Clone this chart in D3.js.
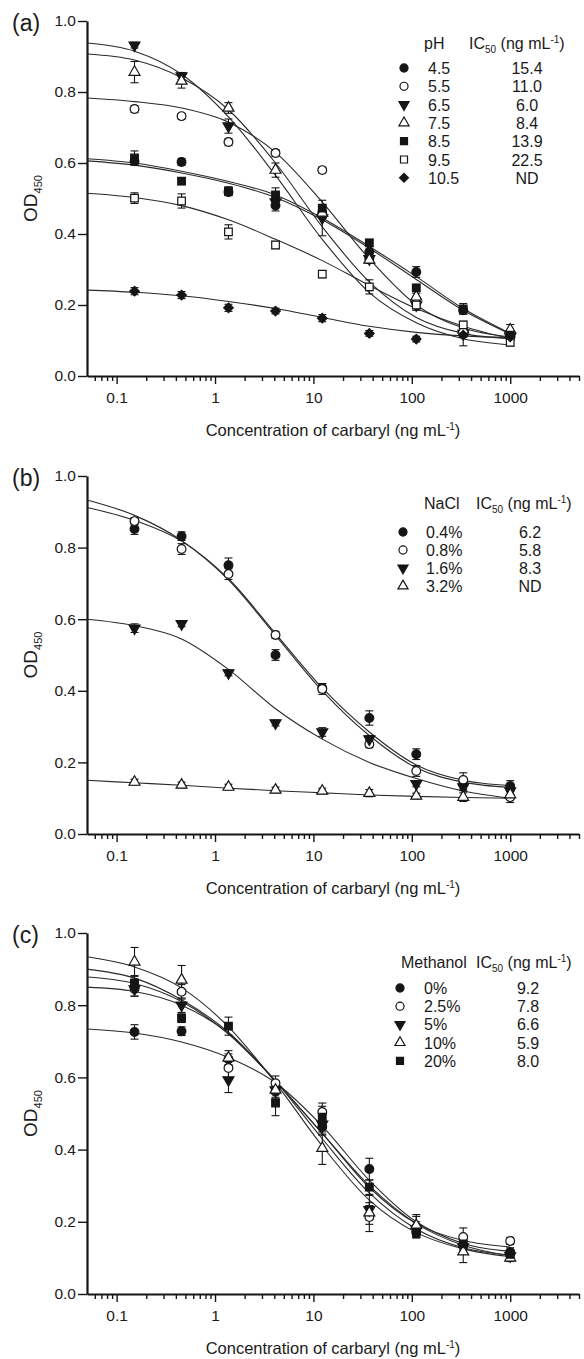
<!DOCTYPE html>
<html>
<head>
<meta charset="utf-8">
<script src="https://d3js.org/d3.v7.min.js"></script>
<style>
  body { margin: 0; background: #fff; }
  text { font-family: "Liberation Sans", Arial, Helvetica, sans-serif; fill: #1a1a1a; }
</style>
</head>
<body>
<svg id="chart" width="584" height="1359"></svg>
<script>
// carbaryl concentrations (ng/mL), 3-fold dilutions
var conc = [0.152, 0.457, 1.37, 4.12, 12.3, 37.0, 111, 333, 1000];
var fitConc = [0.05, 0.152, 0.457, 1.37, 4.12, 12.3, 37.0, 111, 333, 1000];

var majorTicks = [0.1, 1, 10, 100, 1000];
var yTicks = [0, 0.2, 0.4, 0.6, 0.8, 1.0];

// ---- (a) pH ----
var phLevels = ["4.5", "5.5", "6.5", "7.5", "8.5", "9.5", "10.5"];
var phIC50 = ["15.4", "11.0", "6.0", "8.4", "13.9", "22.5", "ND"];
var phOD = [
  [0.605, 0.603, 0.518, 0.48, 0.46, 0.35, 0.293, 0.185, 0.115],
  [0.752, 0.732, 0.659, 0.628, 0.58, 0.33, 0.205, 0.12, 0.11],
  [0.932, 0.845, 0.704, 0.49, 0.445, 0.33, 0.20, 0.12, 0.11],
  [0.856, 0.831, 0.755, 0.58, 0.459, 0.327, 0.223, 0.13, 0.13],
  [0.614, 0.549, 0.521, 0.51, 0.473, 0.375, 0.248, 0.189, 0.115],
  [0.501, 0.493, 0.406, 0.369, 0.287, 0.251, 0.20, 0.144, 0.095],
  [0.239, 0.228, 0.192, 0.183, 0.163, 0.12, 0.104, 0.115, 0.11]
];
var phErr = [
  [0.01, 0.01, 0.01, 0.015, 0.015, 0.015, 0.015, 0.01, 0.01],
  [0.01, 0.008, 0.01, 0.01, 0.008, 0.01, 0.01, 0.01, 0.01],
  [0.008, 0.01, 0.02, 0.01, 0.05, 0.01, 0.01, 0.01, 0.01],
  [0.03, 0.02, 0.015, 0.02, 0.015, 0.01, 0.01, 0.01, 0.015],
  [0.02, 0.01, 0.012, 0.02, 0.01, 0.01, 0.01, 0.015, 0.01],
  [0.015, 0.02, 0.02, 0.01, 0.01, 0.02, 0.015, 0.01, 0.01],
  [0.01, 0.01, 0.01, 0.008, 0.01, 0.008, 0.008, 0.03, 0.01]
];
var phFit = [
  [0.612, 0.600, 0.577, 0.548, 0.510, 0.445, 0.365, 0.28, 0.19, 0.12],
  [0.783, 0.773, 0.755, 0.715, 0.63, 0.49, 0.33, 0.20, 0.135, 0.11],
  [0.938, 0.915, 0.85, 0.73, 0.565, 0.385, 0.235, 0.15, 0.105, 0.088],
  [0.907, 0.89, 0.84, 0.75, 0.60, 0.42, 0.265, 0.165, 0.12, 0.105],
  [0.606, 0.594, 0.572, 0.543, 0.503, 0.44, 0.36, 0.272, 0.185, 0.118],
  [0.515, 0.503, 0.48, 0.44, 0.385, 0.325, 0.255, 0.19, 0.14, 0.105],
  [0.242, 0.236, 0.226, 0.21, 0.19, 0.165, 0.14, 0.123, 0.113, 0.108]
];

// ---- (b) NaCl ----
var naclLevels = ["0.4%", "0.8%", "1.6%", "3.2%"];
var naclIC50 = ["6.2", "5.8", "8.3", "ND"];
var naclOD = [
  [0.852, 0.832, 0.751, 0.50, 0.408, 0.324, 0.223, 0.14, 0.134],
  [0.874, 0.796, 0.726, 0.556, 0.405, 0.251, 0.176, 0.151, 0.103],
  [0.575, 0.587, 0.45, 0.31, 0.285, 0.265, 0.14, 0.131, 0.12],
  [0.145, 0.137, 0.131, 0.123, 0.12, 0.114, 0.106, 0.103, 0.11]
];
var naclErr = [
  [0.015, 0.012, 0.02, 0.015, 0.012, 0.02, 0.015, 0.015, 0.015],
  [0.01, 0.015, 0.015, 0.01, 0.015, 0.01, 0.015, 0.02, 0.015],
  [0.012, 0.008, 0.008, 0.008, 0.012, 0.01, 0.008, 0.01, 0.01],
  [0.008, 0.008, 0.008, 0.008, 0.008, 0.01, 0.008, 0.012, 0.01]
];
var naclFit = [
  [0.912, 0.876, 0.818, 0.713, 0.56, 0.408, 0.285, 0.193, 0.15, 0.135],
  [0.933, 0.89, 0.82, 0.71, 0.555, 0.40, 0.275, 0.185, 0.145, 0.13],
  [0.60, 0.582, 0.545, 0.46, 0.35, 0.265, 0.20, 0.155, 0.12, 0.10],
  [0.15, 0.143, 0.136, 0.128, 0.121, 0.115, 0.109, 0.105, 0.102, 0.10]
];

// ---- (c) methanol ----
var meohLevels = ["0%", "2.5%", "5%", "10%", "20%"];
var meohIC50 = ["9.2", "7.8", "6.6", "5.9", "8.0"];
var meohOD = [
  [0.726, 0.728, 0.65, 0.56, 0.463, 0.346, 0.172, 0.135, 0.116],
  [0.845, 0.837, 0.626, 0.584, 0.504, 0.213, 0.185, 0.158, 0.147],
  [0.845, 0.80, 0.593, 0.565, 0.47, 0.233, 0.18, 0.13, 0.105],
  [0.92, 0.87, 0.654, 0.565, 0.404, 0.225, 0.19, 0.117, 0.10],
  [0.862, 0.764, 0.742, 0.529, 0.49, 0.296, 0.172, 0.139, 0.11]
];
var meohErr = [
  [0.02, 0.012, 0.015, 0.02, 0.02, 0.03, 0.015, 0.015, 0.012],
  [0.02, 0.02, 0.03, 0.02, 0.025, 0.04, 0.03, 0.025, 0.01],
  [0.02, 0.02, 0.035, 0.02, 0.03, 0.04, 0.02, 0.015, 0.01],
  [0.04, 0.04, 0.02, 0.025, 0.045, 0.02, 0.03, 0.03, 0.01],
  [0.02, 0.012, 0.025, 0.035, 0.03, 0.02, 0.015, 0.015, 0.01]
];
var meohFit = [
  [0.734, 0.723, 0.698, 0.655, 0.585, 0.465, 0.315, 0.20, 0.14, 0.118],
  [0.878, 0.86, 0.81, 0.72, 0.59, 0.445, 0.295, 0.195, 0.148, 0.13],
  [0.85, 0.838, 0.80, 0.722, 0.59, 0.43, 0.28, 0.18, 0.128, 0.108],
  [0.934, 0.906, 0.848, 0.74, 0.585, 0.41, 0.26, 0.17, 0.125, 0.103],
  [0.90, 0.875, 0.815, 0.725, 0.59, 0.445, 0.30, 0.195, 0.135, 0.105]
];

// marker styles
var marks7 = ["circleF", "circleO", "triDownF", "triUpO", "squareF", "squareO", "diamondF"];
var ink = "#151515";

var svg = d3.select("#chart");

function markerPath(m, k) {
  if (m.indexOf("circle") == 0) return d3.symbol(d3.symbolCircle, 60 * k)();
  if (m.indexOf("square") == 0) return d3.symbol(d3.symbolSquare, 58 * k)();
  if (m.indexOf("tri") == 0) return d3.symbol(d3.symbolTriangle, 52 * k)();
  return d3.symbol(d3.symbolSquare, 46 * k)();
}
function markerRot(m) {
  if (m == "triDownF") return 180;
  if (m == "diamondF") return 45;
  return 0;
}
function drawMarker(g, m, cx, cy, k) {
  var filled = m.charAt(m.length - 1) == "F";
  g.append("path")
    .attr("d", markerPath(m, k))
    .attr("transform", "translate(" + cx + "," + cy + ") rotate(" + markerRot(m) + ")")
    .attr("fill", filled ? ink : "#fff")
    .attr("stroke", ink)
    .attr("stroke-width", 1.2);
}

var x = d3.scaleLog().domain([0.05, 5000]).range([87, 579]);

function minorTicks() {
  var t = [];
  [0.01, 0.1, 1, 10, 100, 1000].forEach(function(d) {
    for (var k = 2; k <= 9; k++) {
      var v = d * k;
      if (v > 0.055 && v <= 5000) t.push(v);
    }
  });
  return t;
}

function drawPanel(cfg) {
  var y = d3.scaleLinear().domain([0, 1]).range([cfg.bottom, cfg.top]);
  var g = svg.append("g");

  // x axis
  var xa = g.append("g").attr("transform", "translate(0," + cfg.bottom + ")");
  xa.call(d3.axisBottom(x).tickValues(minorTicks()).tickFormat("").tickSize(5).tickSizeOuter(0));
  xa.call(function(s) { s.select(".domain").remove(); });
  var xm = g.append("g").attr("transform", "translate(0," + cfg.bottom + ")");
  xm.call(d3.axisBottom(x).tickValues(majorTicks).tickFormat(d3.format("~g"))
    .tickSize(8).tickPadding(8).tickSizeOuter(0));
  g.selectAll(".tick line").attr("stroke", ink).attr("stroke-width", 1.4);
  xm.select(".domain").attr("stroke", ink).attr("stroke-width", 2.2);
  xm.selectAll("text").attr("font-size", "15.5px").attr("fill", ink);

  // y axis
  var ya = g.append("g").attr("transform", "translate(87,0)");
  ya.call(d3.axisLeft(y).tickValues(yTicks).tickFormat(d3.format(".1f"))
    .tickSize(9).tickPadding(2).tickSizeOuter(0));
  ya.select(".domain").attr("stroke", ink).attr("stroke-width", 2.2);
  ya.selectAll(".tick line").attr("stroke", ink).attr("stroke-width", 1.4);
  ya.selectAll("text").attr("font-size", "15.5px").attr("fill", ink);

  // axis titles
  var xt = g.append("text")
    .attr("x", 333).attr("y", cfg.bottom + 60)
    .attr("text-anchor", "middle").attr("font-size", "16.5px");
  xt.append("tspan").text("Concentration of carbaryl (ng mL");
  xt.append("tspan").attr("font-size", "10px").attr("dy", -6).text("-1");
  xt.append("tspan").attr("dy", 6).text(")");

  var yt = g.append("text")
    .attr("transform", "translate(37," + ((cfg.top + cfg.bottom) / 2) + ") rotate(-90)")
    .attr("text-anchor", "middle").attr("font-size", "19px");
  yt.append("tspan").text("OD");
  yt.append("tspan").attr("font-size", "11px").attr("dy", 5).text("450");

  g.append("text").attr("x", 12).attr("y", cfg.top + 10)
    .attr("font-size", "23px").text(cfg.label);

  // fitted curves
  var line = d3.line()
    .x(function(d, i) { return x(fitConc[i]); })
    .y(function(d) { return y(d); })
    .curve(d3.curveMonotoneX);
  cfg.fit.forEach(function(f) {
    g.append("path").attr("d", line(f))
      .attr("fill", "none").attr("stroke", "#2a2a2a").attr("stroke-width", 1.1);
  });

  // error bars and points
  cfg.od.forEach(function(vals, si) {
    vals.forEach(function(v, i) {
      var cx = x(conc[i]);
      var e = cfg.err[si][i];
      var y1 = y(v - e), y2 = y(v + e);
      g.append("line").attr("x1", cx).attr("x2", cx).attr("y1", y1).attr("y2", y2)
        .attr("stroke", ink).attr("stroke-width", 1.1);
      [y1, y2].forEach(function(yy) {
        g.append("line").attr("x1", cx - 4).attr("x2", cx + 4).attr("y1", yy).attr("y2", yy)
          .attr("stroke", ink).attr("stroke-width", 1.1);
      });
    });
  });
  cfg.od.forEach(function(vals, si) {
    vals.forEach(function(v, i) {
      drawMarker(g, cfg.marks[si], x(conc[i]), y(v), 1);
    });
  });

  // legend
  var L = cfg.legend;
  g.append("text").attr("x", L.headX).attr("y", L.headY + 6)
    .attr("font-size", "16px").text(cfg.title);
  var ic = g.append("text").attr("x", L.icHeadX).attr("y", L.headY + 6).attr("font-size", "16px");
  ic.append("tspan").text("IC");
  ic.append("tspan").attr("font-size", "10px").attr("dy", 4).text("50");
  ic.append("tspan").attr("dy", -4).text(" (ng mL");
  ic.append("tspan").attr("font-size", "10px").attr("dy", -6).text("-1");
  ic.append("tspan").attr("dy", 6).text(")");

  cfg.levels.forEach(function(lv, i) {
    var ry = L.rowY + i * L.step;
    drawMarker(g, cfg.marks[i], L.symX, ry, 0.85);
    g.append("text").attr("x", L.nameX).attr("y", ry + 6).attr("font-size", "16px").text(lv);
    g.append("text").attr("x", L.icX).attr("y", ry + 6).attr("text-anchor", "middle")
      .attr("font-size", "16px").text(cfg.ic50[i]);
  });
}

drawPanel({
  label: "(a)", top: 21, bottom: 376, title: "pH",
  levels: phLevels, ic50: phIC50, od: phOD, err: phErr, fit: phFit, marks: marks7,
  legend: { headX: 424, icHeadX: 469, headY: 43, rowY: 68, step: 18.3, symX: 404, nameX: 428, icX: 527 }
});
drawPanel({
  label: "(b)", top: 476, bottom: 834, title: "NaCl",
  levels: naclLevels, ic50: naclIC50, od: naclOD, err: naclErr, fit: naclFit, marks: marks7.slice(0, 4),
  legend: { headX: 424, icHeadX: 476, headY: 503, rowY: 532, step: 18, symX: 403, nameX: 426, icX: 530 }
});
drawPanel({
  label: "(c)", top: 933, bottom: 1294, title: "Methanol",
  levels: meohLevels, ic50: meohIC50, od: meohOD, err: meohErr, fit: meohFit, marks: marks7.slice(0, 5),
  legend: { headX: 401, icHeadX: 476, headY: 962, rowY: 988, step: 18.2, symX: 400, nameX: 424, icX: 528 }
});
</script>
</body>
</html>
